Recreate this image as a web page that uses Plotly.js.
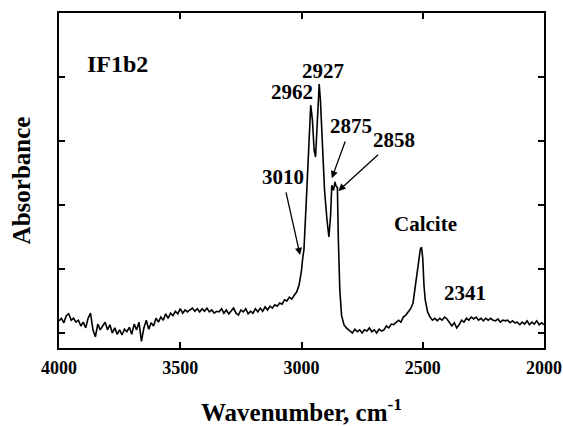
<!DOCTYPE html>
<html>
<head>
<meta charset="utf-8">
<script src="https://cdn.plot.ly/plotly-3.0.1.min.js"></script>
<style>html,body{margin:0;padding:0;background:#fff;}#chart{width:563px;height:426px;}</style>
</head>
<body>
<div id="chart"></div>
<script>
// Wavenumber (cm-1)
const wavenumber = [
4000,3990,3980,3970,3960,3950,3940,3930,3920,3910,
3900,3890,3880,3870,3860,3850,3840,3830,3820,3810,
3800,3790,3780,3770,3760,3750,3740,3730,3720,3710,
3700,3690,3680,3670,3660,3650,3640,3630,3620,3610,
3600,3590,3580,3570,3560,3550,3540,3530,3520,3510,
3500,3490,3480,3470,3460,3450,3440,3430,3420,3410,
3400,3390,3380,3370,3360,3350,3340,3330,3320,3310,
3300,3290,3280,3270,3260,3250,3240,3230,3220,3210,
3200,3190,3180,3170,3160,3150,3140,3130,3120,3110,
3100,3090,3080,3070,3060,3050,3040,3030,3020,3010,
3000,2995,2990,2980,2970,2962,2955,2948,2942,2935,
2927,2922,2915,2905,2895,2887,2880,2875,2868,2862,
2858,2852,2848,2842,2835,2825,2815,2805,2800,2790,
2780,2770,2760,2750,2740,2730,2720,2710,2700,2690,
2680,2670,2660,2650,2640,2630,2620,2610,2600,2590,
2580,2570,2560,2550,2540,2530,2520,2510,2505,2500,
2495,2490,2480,2470,2460,2450,2440,2430,2420,2410,
2400,2390,2380,2370,2360,2350,2340,2330,2320,2310,
2300,2290,2280,2270,2260,2250,2240,2230,2220,2210,
2200,2190,2180,2170,2160,2150,2140,2130,2120,2110,
2100,2090,2080,2070,2060,2050,2040,2030,2020,2010,
2000
];
// Absorbance (arbitrary units)
const absorbance = [
0.019,0.023,0.016,0.027,0.030,0.020,0.023,0.017,0.020,0.011,
0.017,0.008,0.023,0.031,0.005,-0.006,0.014,0.005,0.011,0.017,
0.005,0.013,0.000,0.008,-0.002,0.005,-0.003,0.006,0.002,0.009,
-0.002,0.014,0.005,0.017,-0.013,0.008,0.020,0.006,0.016,0.011,
0.023,0.017,0.025,0.020,0.030,0.023,0.031,0.027,0.034,0.030,
0.038,0.031,0.036,0.033,0.036,0.039,0.034,0.038,0.033,0.038,
0.034,0.039,0.033,0.036,0.031,0.034,0.033,0.038,0.031,0.036,
0.030,0.034,0.039,0.031,0.028,0.036,0.033,0.038,0.030,0.034,
0.031,0.038,0.033,0.039,0.034,0.041,0.036,0.042,0.039,0.044,
0.042,0.047,0.045,0.052,0.050,0.056,0.053,0.059,0.064,0.075,
0.098,0.117,0.130,0.208,0.286,0.356,0.333,0.286,0.275,0.333,
0.389,0.364,0.302,0.223,0.177,0.150,0.184,0.231,0.223,0.236,
0.230,0.227,0.145,0.067,0.028,0.013,0.008,0.005,0.003,0.000,
0.006,0.002,0.005,0.000,0.005,0.003,0.008,0.002,0.005,0.000,
0.006,0.003,0.005,0.011,0.008,0.014,0.013,0.017,0.020,0.017,
0.025,0.028,0.033,0.038,0.047,0.075,0.111,0.131,0.134,0.117,
0.075,0.052,0.033,0.025,0.020,0.023,0.019,0.023,0.020,0.025,
0.022,0.017,0.011,0.016,0.008,0.013,0.020,0.017,0.023,0.020,
0.025,0.022,0.025,0.020,0.023,0.019,0.023,0.020,0.023,0.020,
0.019,0.022,0.017,0.020,0.019,0.020,0.016,0.019,0.016,0.017,
0.013,0.017,0.014,0.019,0.013,0.017,0.014,0.019,0.013,0.016,
0.013
];
const xTicks = [4000, 3500, 3000, 2500, 2000];
const xTickLabels = ["4000", "3500", "3000", "2500", "2000"];

// Plain labels: text, wavenumber, absorbance
const labelTexts = ["IF1b2", "2962", "2927", "Calcite", "2341"];
const labelX = [3759, 3040, 2910, 2489, 2327];
const labelY = [0.421, 0.377, 0.409, 0.170, 0.063];
const labelSize = [24, 21, 21, 21, 21];
// Arrowed labels: text, arrow tip (wavenumber, absorbance), label offset from tip in px
const arrowTexts = ["3010", "2875", "2858"];
const arrowX = [3006, 2875, 2848];
const arrowY = [0.122, 0.242, 0.222];
const arrowDX = [-17.5, 19, 56];
const arrowDY = [-78, -52, -51];

const serif = "'Liberation Serif', 'Times New Roman', serif";

const annotations = [];
for (let i = 0; i < labelTexts.length; i++) {
  annotations.push({
    x: labelX[i], y: labelY[i], xref: 'x', yref: 'y',
    text: '<b>' + labelTexts[i] + '</b>', showarrow: false,
    font: {family: serif, size: labelSize[i], color: '#000'},
    xanchor: 'center', yanchor: 'middle'
  });
}
for (let i = 0; i < arrowTexts.length; i++) {
  annotations.push({
    x: arrowX[i], y: arrowY[i], xref: 'x', yref: 'y',
    ax: arrowDX[i], ay: arrowDY[i], text: '<b>' + arrowTexts[i] + '</b>', showarrow: true,
    font: {family: serif, size: 21, color: '#000'},
    arrowhead: 2, arrowsize: 1.1, arrowwidth: 1.3, arrowcolor: '#000', standoff: 0, startstandoff: 2
  });
}

const trace = {
  x: wavenumber, y: absorbance, type: 'scatter', mode: 'lines',
  line: {color: '#000', width: 1.6}, hoverinfo: 'skip'
};

const layout = {
  width: 563, height: 426,
  margin: {l: 59, r: 19, t: 13, b: 78},
  paper_bgcolor: '#fff', plot_bgcolor: '#fff',
  showlegend: false,
  font: {family: serif, color: '#000'},
  xaxis: {
    range: [4000, 2000], showgrid: false, zeroline: false,
    showline: true, linecolor: '#000', linewidth: 2, mirror: 'ticks',
    ticks: 'inside', ticklen: 6, tickwidth: 2, tickcolor: '#000',
    tickmode: 'array', tickvals: xTicks, ticktext: xTickLabels.map(t => '<b>' + t + '</b>'),
    tickfont: {family: serif, size: 18, color: '#000'}, ticklabelstandoff: 2,
    title: {text: '<b>Wavenumber, cm<sup>-1</sup></b>', font: {family: serif, size: 25, color: '#000'}, standoff: 32}
  },
  yaxis: {
    range: [-0.0234, 0.5], showgrid: false, zeroline: false,
    showline: true, linecolor: '#000', linewidth: 2, mirror: 'ticks',
    ticks: 'inside', ticklen: 6, tickwidth: 2, tickcolor: '#000',
    tick0: 0, dtick: 0.1, showticklabels: false,
    title: {text: '<b>Absorbance</b>', font: {family: serif, size: 25, color: '#000'}, standoff: 19}
  },
  annotations: annotations
};

Plotly.newPlot('chart', [trace], layout, {displayModeBar: false, staticPlot: true});
</script>
</body>
</html>
